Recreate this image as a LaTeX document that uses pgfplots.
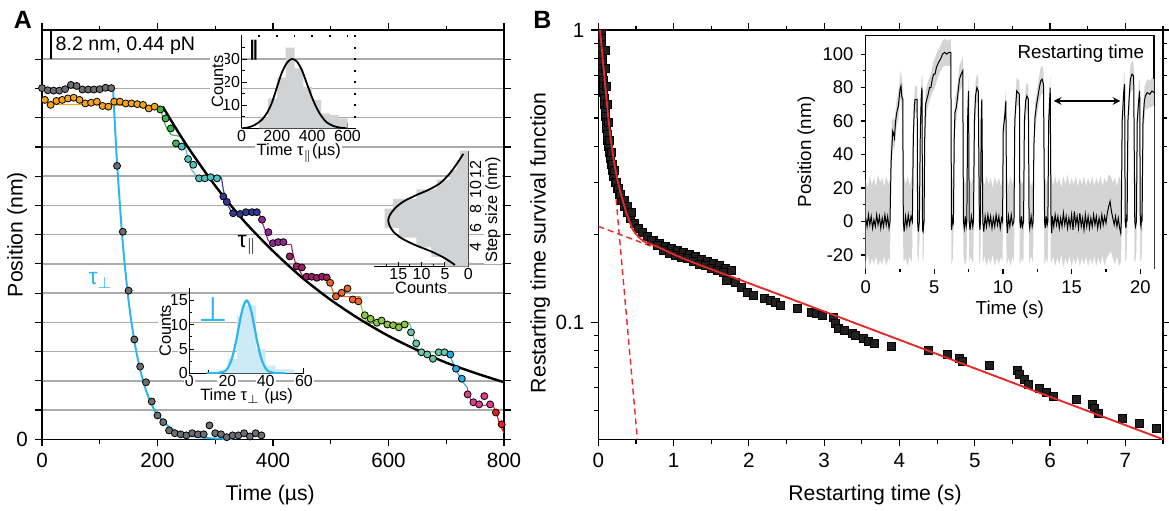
\documentclass[border=0pt]{standalone}
\usepackage{fontspec}
\setmainfont{Liberation Sans}
\newfontfamily\dejavu{DejaVu Sans}
\newfontfamily\dejavub{DejaVu Sans Bold}
\usepackage{pgfplots}
\pgfplotsset{compat=1.18}
\definecolor{gridc}{HTML}{ABABAB}
\definecolor{cGray}{HTML}{6D6E71}
\definecolor{cCy}{HTML}{2DB8EC}
\definecolor{cOr}{HTML}{F7A41D}
\definecolor{cGr}{HTML}{39B54A}
\definecolor{cTe}{HTML}{4DC3C0}
\definecolor{cBl}{HTML}{2E3A94}
\definecolor{cPu}{HTML}{93278F}
\definecolor{cMa}{HTML}{9E1F63}
\definecolor{cOR}{HTML}{F26522}
\definecolor{cYG}{HTML}{8DC63F}
\definecolor{cTG}{HTML}{67C8A4}
\definecolor{cSk}{HTML}{29ABE2}
\definecolor{cPk}{HTML}{E23D8C}
\definecolor{cRd}{HTML}{ED1C24}
\definecolor{histA}{HTML}{D1D2D4}
\definecolor{histP}{HTML}{CDEAF7}
\definecolor{bandB}{HTML}{D4D4D4}
\definecolor{sqB}{HTML}{231F20}
\definecolor{redB}{HTML}{E62A2A}
\pgfplotsset{
 mainax/.style={scale only axis, anchor=south west, tick align=outside,
   major tick length=3.5pt, minor tick length=2.2pt,
   every tick/.style={black, line width=0.6pt},
   axis line style={line width=0.6pt},
   tick label style={font=\fontsize{10.3}{12}\selectfont},
   label style={font=\fontsize{10.6}{12.5}\selectfont},
   /pgf/number format/assume math mode=true},
 insetax/.style={scale only axis, anchor=south west, tick align=inside,
   major tick length=2.5pt, minor tick length=1.5pt,
   every tick/.style={black, line width=0.5pt},
   axis line style={line width=0.6pt},
   tick label style={font=\fontsize{8}{9.5}\selectfont, fill=white, inner sep=0.6pt},
   label style={font=\fontsize{8.2}{9.5}\selectfont, fill=white, inner sep=0.6pt},
   /pgf/number format/assume math mode=true},
 dot/.style={only marks, mark=*, mark size=1.75pt, mark options={draw=none, fill=#1}},
 stp/.style={#1, line width=0.55pt},
}
\begin{document}
\begin{tikzpicture}
\useasboundingbox (0pt,0pt) rectangle (584.5pt,255pt);
\node[font=\bfseries\fontsize{12.5}{14}\selectfont] at (11.5pt,245pt) {A};
\node[font=\bfseries\fontsize{12.5}{14}\selectfont] at (271.25pt,245pt) {B};

% ================= PANEL A main =================
\begin{axis}[mainax, at={(21pt,35.35pt)}, width=231pt, height=204.65pt,
  xmin=0, xmax=800, ymin=0, ymax=114.8,
  xtick={0,200,400,600,800},
  extra x ticks={100,300,500,700}, extra x tick labels={}, extra x tick style={major tick length=2.2pt},
  ytick={0}, minor ytick={8.2,16.4,24.6,32.8,41,49.2,57.4,65.6,73.8,82,90.2,98.4,106.6},
  minor tick length=3.5pt,
  yminorgrids, minor grid style={color=gridc, line width=0.75pt},
  xlabel={Time (µs)}, ylabel={Position (nm)},
  xlabel style={at={(axis description cs:0.494,-0.136)}, anchor=center},
  ylabel style={at={(axis description cs:-0.054,0.5)}, anchor=center},
]
\addplot[cCy, line width=1pt, smooth] coordinates {(123,98.5)(130,77.4)(140,54.8)(150,38.8)(160,27.5)(170,19.5)(180,13.8)(190,9.8)(200,6.9)(220,3.5)(240,1.7)(260,0.9)(280,0.44)(300,0.22)(330,0.08)};
\addplot[dot=cGray] coordinates {(0,98.5)(10,97.9)(20,97.8)(30,97.8)(40,98.2)(50,99.4)(60,99.1)(70,98.1)(80,98.1)(90,98.1)(100,98.2)(110,98.6)(120,98.5)(130,76.7)(140,58.2)(150,41.7)(160,28.0)(170,20.4)(180,16.0)(190,10.6)(200,6.7)(210,4.8)(220,2.5)(230,1.7)(240,1.4)(250,1.1)(260,1.7)(270,1.4)(280,1.4)(290,3.9)(300,1.7)(310,1.4)(320,0.6)(330,1.1)(340,1.1)(350,1.7)(360,0.8)(370,1.7)(380,1.1)};
\addplot[stp=cOr] coordinates {(12,94.0)(203,93.5)};
\addplot[stp=cGr] coordinates {(203,93.5)(206,92.4)(210,89.6)(216,87.2)(224,85.4)(242,84.9)};
\addplot[stp=cTe] coordinates {(242,84.9)(248,82.1)(253,78.4)(259,75.6)(268,73.7)(308,73.7)};
\addplot[stp=cBl] coordinates {(308,73.7)(311,73.2)(314,70)(320,66.3)(326,64.4)(331,63.0)(377,63.0)};
\addplot[stp=cPu] coordinates {(377,63.0)(381,61)(386,58.8)(391,56)(398,54.6)(432,54.6)};
\addplot[stp=cMa] coordinates {(432,54.6)(433,53.2)(438,49.8)(445,47.6)(452,45.6)(495,45.6)};
\addplot[stp=cOR] coordinates {(495,45.6)(497,44.8)(504,41.4)(509,40.0)(551,40.0)};
\addplot[stp=cYG] coordinates {(551,40.0)(552,37.8)(558,34.1)(565,32.5)(637,32.5)};
\addplot[stp=cTG] coordinates {(637,32.5)(641,30.2)(646,27.4)(653,24.6)(704,24.4)};
\addplot[stp=cSk] coordinates {(704,24.4)(708,22.9)(715,20.1)(722,17.9)(729,16.0)(736,14.6)};
\addplot[stp=cPk] coordinates {(736,14.6)(739,12.6)(744,10.4)(752,9.5)(781,9.5)};
\addplot[stp=cRd] coordinates {(781,9.5)(786,7.8)(791,5.0)(797,2.8)(800,1.7)};
\addplot[dot=cOr] coordinates {(5,95.2)(15,93.8)(25,94.9)(35,95.2)(45,95.6)(55,95.8)(65,95.2)(75,94.2)(85,94.4)(95,94.7)(105,93.5)(115,93.3)(125,94.7)(135,94.7)(145,94.2)(155,94.2)(165,94.0)(175,93.8)(185,92.8)(195,93.3)};
\addplot[dot=cGr] coordinates {(205,92.5)(214,90.0)(223,87.2)(232,83.0)};
\addplot[dot=cTe] coordinates {(242,82.1)(253,78.6)(262,77.0)(272,73.2)(282,73.2)(292,73.5)(303,73.2)};
\addplot[dot=cBl] coordinates {(314,68.1)(320,66.6)(331,63.4)(343,63.2)(353,63.7)(364,63.7)(372,63.7)};
\addplot[dot=cPu] coordinates {(381,61.6)(392,58.1)(400,55.0)(409,55.3)(418,55.3)};
\addplot[dot=cMa] coordinates {(429,51.3)(441,48.5)(450,48.2)(458,45.6)(467,45.6)(476,45.3)(485,45.6)(493,45.4)};
\addplot[dot=cOR] coordinates {(499,43.9)(509,40.1)(519,41.1)(529,42.3)(538,39.2)(548,38.7)};
\addplot[dot=cYG] coordinates {(559,34.8)(569,33.8)(580,32.7)(588,33.3)(598,32.2)(608,32.0)(618,31.4)(628,32.2)};
\addplot[dot=cTG] coordinates {(639,30.0)(648,26.9)(657,24.4)(667,23.8)(677,22.6)(687,24.4)(697,24.4)};
\addplot[dot=cSk] coordinates {(707,23.8)(717,19.8)(727,17.0)};
\addplot[dot=cPk] coordinates {(737,12.6)(747,10.4)(757,9.8)(766,12.1)(776,9.8)};
\addplot[dot=cRd] coordinates {(786,7.5)(796,4.2)};
\addplot[black, line width=1.2pt, smooth] coordinates {(209,93.3)(250,82.6)(300,71.1)(350,61.2)(400,52.8)(450,45.4)(500,39.1)(550,33.7)(600,29.0)(650,25.0)(700,21.5)(750,18.6)(800,16.0)};
\draw[black, line width=1.3pt] (axis cs:15.6,106.6) -- (axis cs:15.6,114.8);
\node[anchor=west, font=\fontsize{9.8}{11}\selectfont, inner sep=0pt] at (axis cs:23,110.5) {8.2 nm, 0.44 pN};
\node[font=\fontsize{11.5}{13}\selectfont] at (axis cs:355,54.5) {τ$_{\|}$};
\node[text=cCy, font=\fontsize{11.5}{13}\selectfont] at (axis cs:101,44.5) {τ$_{\perp}$};
\end{axis}

% ----- sideways step-size histogram -----
\begin{axis}[insetax, at={(187pt,121.7pt)}, width=47.15pt, height=58pt,
  x dir=reverse, xmin=0, xmax=20.2, ymin=2, ymax=14,
  axis x line*=bottom, axis y line*=right, clip mode=individual,
  xtick={0,5,10,15}, minor xtick={2.5,7.5,12.5,17.5},
  ytick={4,6,8,10,12}, minor ytick={3,5,7,9,11,13},
  yticklabel style={rotate=90, anchor=north},
  xlabel={Counts},
]
\addplot[fill=histA, draw=none] coordinates {(0,2)(5,2)(5,3)(7.9,3)(7.9,4)(11.1,4)(11.1,5)(14.8,5)(14.8,6)(17.9,6)(17.9,8)(16.1,8)(16.1,9)(11.1,9)(11.1,10)(6.8,10)(6.8,11)(3.9,11)(3.9,12)(2.5,12)(2.5,13)(1.8,13)(1.8,14)(0,14)};
\addplot[black, line width=0.9pt, smooth] coordinates {(1.07,13.66)(2.14,12.86)(3.93,11.66)(6.07,10.62)(8.57,9.93)(11.07,9.41)(13.93,8.72)(15.71,8.03)(16.79,7.34)(17.14,6.83)(16.93,6.31)(16.07,5.62)(14.29,4.93)(11.43,4.24)(7.86,3.55)(5.0,2.86)(2.86,2.17)};
\node[rotate=90, font=\fontsize{8.2}{9.5}\selectfont, fill=white, inner sep=0.6pt] at (axis description cs:1.26,0.49) {Step size (nm)};
\end{axis}

% ----- parallel histogram -----
\begin{axis}[insetax, at={(120.75pt,190.85pt)}, width=57.25pt, height=46.65pt,
  xmin=0, xmax=648, ymin=0, ymax=40.5,
  axis x line*=bottom, axis y line*=left,
  xtick={0,200,400,600}, minor xtick={100,300,500},
  ytick={10,20,30}, minor ytick={5,15,25,35},
  xlabel={Time τ$_{\|}$(µs)}, ylabel={Counts},
  ylabel style={yshift=-2pt},
]
\addplot[ybar interval, fill=histA, draw=none] coordinates {(100,4.3)(150,13)(200,22)(250,35)(300,26)(350,18)(400,12.3)(450,6.5)(500,5.8)(550,4.3)(600,4.3)};
\addplot[black, line width=0.9pt, smooth] coordinates {(1,0)(39,0.4)(76,1.5)(114,3.6)(143,6.5)(171,10.9)(199,17.4)(227,23.9)(256,28.3)(284,30.1)(312,29.1)(341,25.4)(369,19.6)(397,13.8)(426,8.7)(454,5.1)(482,2.6)(520,1.0)(557,0.3)(595,0)};
\node[font=\dejavub\fontsize{10}{12}\selectfont] at (axis cs:68,34) {‖};
\end{axis}
\begin{axis}[insetax, at={(120.75pt,190.85pt)}, width=57.25pt, height=46.65pt,
  xmin=0, xmax=648, ymin=0, ymax=40.5,
  axis x line*=top, axis y line*=right, axis line style={draw=none},
  xtick={100,200,300,400,500,600}, ytick={5,10,15,20,25,30,35,40},
  xticklabels={}, yticklabels={}, tick label style={fill=none},
  major tick length=1.2pt, every tick/.style={black, line width=0.9pt}]
\addplot[draw=none] coordinates {(0,0)(648,40.5)};
\end{axis}

% ----- perpendicular histogram -----
\begin{axis}[insetax, at={(94.65pt,68.35pt)}, width=57.3pt, height=42.5pt,
  xmin=0, xmax=60, ymin=0, ymax=17.5,
  axis x line*=bottom, axis y line*=left,
  xtick={0,20,40,60}, minor xtick={10,30,50},
  ytick={0,5,10,15}, minor ytick={2.5,7.5,12.5},
  xlabel={Time τ$_{\perp}$ (µs)}, ylabel={Counts},
  ylabel style={yshift=-2pt},
]
\addplot[ybar interval, fill=histP, draw=none] coordinates {(15,0.7)(20,2.9)(25,11.8)(27.5,14)(35,5)(40,1.6)(45,0.8)(55,0.8)};
\addplot[cCy, line width=1.1pt, smooth] coordinates {(9,0)(14,0.015)(18,0.31)(20,1.0)(22,2.66)(24,5.67)(26,9.73)(28,13.46)(30,15)(32,13.46)(34,9.73)(36,5.67)(38,2.66)(40,1.0)(42,0.31)(46,0.015)(50,0)};
\node[text=cCy, font=\dejavu\fontsize{17}{19}\selectfont, inner sep=0pt] at (axis cs:12.6,13.2) {⊥};
\end{axis}

% ================= PANEL B main =================
\begin{axis}[mainax, at={(299.15pt,35.35pt)}, width=282.35pt, height=204.65pt,
  ymode=log, xmin=0, xmax=7.5, ymin=0.0398, ymax=1,
  xtick={0,1,2,3,4,5,6,7}, minor xtick={0.5,1.5,2.5,3.5,4.5,5.5,6.5,7.5},
  ytick={0.1,1}, yticklabels={0.1,1},
  minor ytick={0.05,0.06,0.07,0.08,0.09,0.2,0.3,0.4,0.5,0.6,0.7,0.8,0.9},
  xlabel={Restarting time (s)}, ylabel={Restarting time survival function},
  xlabel style={at={(axis description cs:0.49,-0.136)}, anchor=center},
  ylabel style={at={(axis description cs:-0.103,0.48)}, anchor=center},
  clip marker paths=true,
]
\addplot[redB, line width=0.7pt, dash pattern=on 3pt off 2pt] coordinates {(0,0.213)(7.5,0.0398)};
\addplot[redB, line width=0.7pt, dash pattern=on 3pt off 2pt] coordinates {(0.038,1.0)(0.519,0.0397)};
\addplot[only marks, mark=square*, mark size=2pt, mark options={draw=none, fill=sqB}] coordinates {
(0.036,0.984)(0.036,0.939)(0.036,0.896)(0.036,0.854)(0.049,0.815)(0.049,0.777)(0.049,0.741)(0.049,0.707)(0.062,0.674)(0.062,0.643)(0.062,0.613)(0.075,0.585)(0.075,0.558)(0.089,0.532)(0.089,0.508)(0.102,0.484)(0.102,0.462)(0.115,0.440)(0.115,0.420)(0.128,0.401)(0.142,0.382)(0.155,0.365)(0.168,0.348)(0.181,0.332)(0.194,0.316)(0.221,0.302)(0.248,0.288)(0.274,0.274)(0.301,0.262)(0.340,0.250)(0.380,0.238)(0.420,0.227)(0.473,0.218)(0.526,0.210)(0.592,0.203)(0.658,0.197)(0.738,0.191)(0.817,0.1865)(0.897,0.182)(0.976,0.179)(1.056,0.1765)(1.135,0.174)(1.215,0.171)(1.294,0.168)(1.373,0.164)(1.453,0.162)(1.532,0.159)(1.612,0.1567)(1.691,0.153)(1.771,0.1507)
(0.09,0.854)(0.10,0.741)(0.11,0.643)(0.12,0.558)(0.135,0.484)(0.15,0.420)(0.17,0.382)(0.19,0.348)(0.21,0.332)(0.24,0.302)(0.27,0.288)(0.30,0.274)(0.34,0.262)(0.39,0.250)(0.44,0.238)
(0.70,0.190)(0.78,0.184)(0.86,0.176)(0.94,0.172)(1.02,0.170)(1.10,0.167)(1.18,0.165)(1.26,0.162)(1.34,0.158)(1.42,0.156)(1.50,0.153)(1.58,0.151)(1.66,0.148)
(1.70,0.139)(1.82,0.137)(1.902,0.1318)(1.975,0.1267)(2.064,0.1238)(2.21,0.1208)(2.283,0.119)(2.356,0.117)(2.415,0.1143)(2.65,0.1117)(2.826,0.1082)(2.899,0.1074)(2.973,0.1057)(3.12,0.104)(3.15,0.0993)(3.193,0.0954)(3.266,0.0939)(3.369,0.0917)(3.413,0.0903)(3.515,0.0882)(3.589,0.0861)(3.662,0.0848)(3.896,0.0828)(4.38,0.0802)(4.63,0.0777)(4.80,0.0753)(4.83,0.0735)(5.20,0.0713)(5.566,0.0686)(5.596,0.0664)(5.655,0.0638)(5.713,0.0614)(5.86,0.0594)(5.95,0.0576)(6.04,0.0558)(6.345,0.0545)(6.565,0.0524)(6.595,0.0507)(6.64,0.0488)(6.96,0.0469)(7.18,0.0451)(7.417,0.0434)};
\addplot[redB, line width=0.9pt, smooth] coordinates {(0.023,1.0)(0.089,0.658)(0.155,0.444)(0.221,0.340)(0.287,0.283)(0.376,0.236)(0.464,0.2065)(0.596,0.19)(0.773,0.182)(1.215,0.162)(2.5,0.1218)(4,0.0871)(5.5,0.0622)(7.5,0.0398)};
\end{axis}

% ----- inset B: trace -----
\begin{axis}[mainax, at={(432.85pt,120.85pt)}, width=144.15pt, height=116.3pt,
  axis background/.style={fill=white},
  xmin=0, xmax=21, ymin=-28, ymax=111,
  tick pos=left, major tick length=2.6pt, minor tick length=1.6pt,
  xtick={0,5,10,15,20}, minor xtick={2.5,7.5,12.5,17.5},
  ytick={-20,0,20,40,60,80,100}, minor ytick={-10,10,30,50,70,90},
  tick label style={font=\fontsize{9.2}{10.5}\selectfont},
  label style={font=\fontsize{9.4}{11}\selectfont},
  xlabel={Time (s)}, ylabel={Position (nm)},
  xlabel style={yshift=3pt}, ylabel style={yshift=-3pt},
]
\addplot[fill=bandB, draw=none] coordinates {
(0,25)(0.15,20)(0.3,27)(0.45,22)(0.6,26)(0.75,21)(0.9,28)(1.05,23)(1.2,26)(1.35,21)(1.5,27)(1.65,22)(1.77,25)
(1.8,45)(1.9,60)(2.0,62)(2.1,60)(2.26,73)(2.38,77)(2.5,87)(2.57,90)(2.65,83)(2.72,80)(2.76,28)
(2.9,22)(3.05,27)(3.2,21)(3.35,26)
(3.4,45)(3.5,70)(3.6,81)(3.75,81)(3.79,25)(3.88,22)
(3.93,40)(4.05,83)(4.1,88)(4.14,86)(4.18,25)(4.23,22)
(4.27,50)(4.36,78)(4.55,84)(4.75,88)(4.95,96)(5.15,100)(5.3,103)(5.45,105)(5.6,108)(5.75,109)(6.0,108)(6.2,109)(6.27,28)(6.36,24)
(6.42,55)(6.5,73)(6.7,83)(6.83,93)(7.07,98)(7.14,27)(7.25,22)(7.35,26)
(7.4,60)(7.49,86)(7.55,28)(7.65,22)(7.8,26)
(7.88,60)(8.0,83)(8.1,88)(8.2,86)(8.3,26)
(8.38,50)(8.46,81)(8.53,28)
(8.65,21)(8.8,27)(8.95,22)(9.1,26)(9.25,20)(9.4,27)(9.55,22)(9.7,26)(9.85,21)(9.97,25)
(10.0,55)(10.1,68)(10.22,80)(10.29,27)
(10.4,21)(10.55,27)(10.7,22)(10.8,25)
(10.84,55)(10.95,80)(11.0,86)(11.2,84)(11.25,26)(11.38,22)(11.5,25)
(11.53,55)(11.65,80)(11.74,83)(11.85,81)(11.92,26)(12.05,21)(12.2,25)
(12.23,45)(12.33,70)(12.55,83)(12.75,92)(12.85,93)(12.95,90)(13.05,27)(13.15,22)(13.27,25)
(13.3,55)(13.44,88)(13.52,28)
(13.65,21)(13.8,27)(13.95,22)(14.1,26)(14.25,20)(14.4,27)(14.55,22)(14.7,28)(14.85,21)(15.0,26)(15.15,22)(15.3,27)(15.45,21)(15.6,26)(15.75,22)(15.9,27)(16.05,21)(16.2,26)(16.35,22)(16.5,27)(16.65,21)(16.8,26)(16.95,22)(17.1,27)(17.25,21)(17.4,26)(17.55,23)(17.7,28)(17.85,27)(18.0,23)(18.15,26)(18.3,21)(18.45,27)(18.6,24)
(18.65,60)(18.8,86)(18.86,90)(18.92,27)(19.0,24)
(19.07,60)(19.2,83)(19.28,93)(19.4,96)(19.52,95)(19.62,27)(19.7,24)
(19.75,60)(19.88,80)(19.96,86)(20.02,27)(20.1,24)
(20.16,60)(20.3,80)(20.5,85)(20.7,84)(20.85,86)(21,85)
(21,-28)(0,-28)};
\addplot[fill=white, draw=none] coordinates {
(0,-24)(0.15,-20)(0.3,-27)(0.45,-22)(0.6,-26)(0.75,-21)(0.9,-27)(1.05,-23)(1.2,-26)(1.35,-21)(1.5,-27)(1.65,-22)(1.77,-24)
(1.8,-5)(1.85,27)(1.97,46)(2.09,42)(2.26,57)(2.38,61)(2.5,71)(2.57,73)(2.62,67)(2.68,65)(2.72,-10)(2.76,-25)
(2.9,-22)(3.05,-27)(3.2,-21)(3.38,-25)
(3.42,10)(3.5,50)(3.6,65)(3.74,65)(3.77,-20)(3.85,-26)
(3.92,-10)(4.0,50)(4.1,72)(4.13,60)(4.15,-25)(4.22,-22)
(4.26,-5)(4.32,45)(4.45,65)(4.65,72)(4.85,77)(5.05,80)(5.3,87)(5.6,92)(5.75,93)(6.2,93)(6.24,-27)(6.36,-22)
(6.4,-5)(6.47,50)(6.6,60)(6.83,77)(7.07,82)(7.11,-20)(7.25,-27)(7.35,-22)
(7.38,-5)(7.44,55)(7.49,70)(7.53,-25)(7.65,-21)(7.83,-26)
(7.87,-5)(7.95,55)(8.1,72)(8.2,70)(8.26,-27)(8.35,-23)
(8.38,-5)(8.45,57)(8.5,65)(8.52,-26)
(8.65,-21)(8.8,-27)(8.95,-22)(9.1,-26)(9.25,-20)(9.4,-27)(9.55,-22)(9.7,-26)(9.85,-21)(9.96,-25)
(10.0,-5)(10.05,47)(10.15,57)(10.22,64)(10.26,-27)
(10.4,-22)(10.55,-27)(10.7,-21)(10.79,-25)
(10.83,-5)(10.9,55)(11.0,70)(11.2,68)(11.22,-26)(11.38,-22)(11.49,-25)
(11.52,-5)(11.58,55)(11.74,67)(11.85,65)(11.89,-26)(12.05,-21)(12.19,-25)
(12.22,-5)(12.3,50)(12.45,62)(12.65,72)(12.85,77)(12.95,74)(13.01,-27)(13.15,-22)(13.26,-25)
(13.3,-5)(13.36,55)(13.44,72)(13.48,-26)
(13.65,-21)(13.8,-27)(13.95,-22)(14.1,-26)(14.25,-20)(14.4,-28)(14.55,-22)(14.7,-26)(14.85,-21)(15.0,-27)(15.15,-22)(15.3,-26)(15.45,-21)(15.6,-27)(15.75,-22)(15.9,-26)(16.05,-21)(16.2,-27)(16.35,-22)(16.5,-26)(16.65,-21)(16.8,-27)(16.95,-22)(17.1,-26)(17.25,-21)(17.4,-27)(17.55,-22)(17.7,-20)(17.85,-18)(18.0,-22)(18.15,-26)(18.3,-21)(18.45,-27)(18.6,-24)
(18.64,-5)(18.72,55)(18.86,74)(18.89,-25)(19.0,-22)
(19.06,-5)(19.15,55)(19.28,77)(19.52,79)(19.58,-25)(19.7,-22)
(19.74,-5)(19.82,55)(19.96,70)(19.99,-25)(20.1,-22)
(20.15,-5)(20.25,55)(20.37,67)(20.7,68)(21,69)
(21,-28.5)(0,-28.5)};
\addplot[black, line width=0.5pt] coordinates {
(0,2)(0.1,-3)(0.2,4)(0.3,-2)(0.4,3)(0.5,-4)(0.6,1)(0.7,-3)(0.8,4)(0.9,-2)(1.0,3)(1.1,-4)(1.2,2)(1.3,-3)(1.4,4)(1.5,-2)(1.6,3)(1.7,-4)
(1.77,0)(1.85,35)(1.97,54)(2.05,52)(2.09,50)(2.18,60)(2.26,65)(2.38,69)(2.50,79)(2.57,81)(2.62,75)(2.70,73)(2.74,0)
(2.8,-6)(2.9,3)(3.0,-3)(3.1,4)(3.2,-2)(3.3,3)
(3.40,0)(3.47,50)(3.55,70)(3.6,73)(3.75,73)(3.78,0)(3.83,-6)
(3.91,0)(3.98,55)(4.05,75)(4.1,80)(4.14,-5)(4.18,-6)
(4.25,0)(4.3,50)(4.36,70)(4.45,73)(4.55,76)(4.65,80)(4.75,80)(4.85,85)(4.95,88)(5.05,88)(5.15,92)(5.3,95)(5.45,97)(5.6,100)(5.75,101)(5.9,100)(6.05,101)(6.2,101)(6.25,-5)(6.3,-2)(6.34,2)
(6.39,0)(6.45,50)(6.5,65)(6.6,68)(6.7,75)(6.83,85)(6.95,88)(7.07,90)(7.12,0)
(7.18,-4)(7.25,3)(7.32,-3)
(7.37,0)(7.42,60)(7.49,78)(7.54,0)
(7.6,-5)(7.7,3)(7.8,-3)
(7.85,0)(7.92,60)(8.0,75)(8.1,80)(8.2,78)(8.28,0)(8.32,-5)
(8.36,0)(8.42,65)(8.46,73)(8.53,0)
(8.6,-6)(8.7,3)(8.8,-3)(8.9,4)(9.0,-2)(9.1,3)(9.2,-4)(9.3,2)(9.4,-3)(9.5,4)(9.6,-2)(9.7,3)(9.8,-4)(9.9,2)
(9.97,0)(10.02,55)(10.09,60)(10.15,65)(10.21,72)(10.27,0)
(10.32,-7)(10.4,3)(10.5,-3)(10.6,4)(10.7,-2)
(10.8,0)(10.86,60)(10.95,72)(11.0,78)(11.1,77)(11.2,76)(11.23,0)
(11.28,-4)(11.35,3)(11.42,-3)
(11.5,0)(11.56,60)(11.65,72)(11.74,75)(11.85,73)(11.9,0)
(11.95,-4)(12.05,3)(12.13,-3)
(12.2,0)(12.25,45)(12.33,62)(12.45,70)(12.55,75)(12.65,80)(12.75,84)(12.85,85)(12.95,82)(13.03,0)
(13.08,-4)(13.15,3)(13.22,-2)
(13.27,0)(13.33,60)(13.44,80)(13.5,0)
(13.55,-7)(13.6,3)(13.7,-3)(13.8,4)(13.9,-2)(14.0,3)(14.1,-4)(14.2,2)(14.3,-3)(14.4,5)(14.5,-2)(14.6,3)(14.7,-4)(14.8,2)(14.9,-3)(15.0,4)(15.1,-5)(15.2,6)(15.3,-2)(15.4,3)(15.5,-4)(15.6,5)(15.7,-3)(15.8,2)(15.9,-5)(16.0,4)(16.1,-3)(16.2,3)(16.3,-4)(16.4,2)(16.5,-3)(16.6,4)(16.7,-2)(16.8,3)(16.9,-4)(17.0,2)(17.1,-3)(17.2,4)(17.3,-2)(17.4,3)(17.5,-1)(17.6,5)(17.7,9)(17.8,12)(17.9,6)(18.0,2)(18.1,-2)(18.2,3)(18.3,-3)(18.4,2)(18.5,-4)(18.58,-7)
(18.62,0)(18.68,60)(18.8,78)(18.86,82)(18.9,0)
(18.95,-4)(19.0,2)
(19.04,0)(19.1,60)(19.2,75)(19.28,85)(19.4,88)(19.52,87)(19.6,0)
(19.65,-3)
(19.72,0)(19.78,60)(19.88,72)(19.96,78)(20.0,0)
(20.05,-3)(20.1,2)
(20.13,0)(20.2,60)(20.3,72)(20.37,75)(20.5,77)(20.7,76)(20.85,78)(21,77)};
\node[anchor=east, font=\fontsize{9.4}{11}\selectfont, inner sep=0pt] at (axis cs:20.3,100.5) {Restarting time};
\draw[<->, >=stealth, line width=0.7pt] (axis cs:13.7,72) -- (axis cs:18.55,72);
\end{axis}
\end{tikzpicture}
\end{document}
